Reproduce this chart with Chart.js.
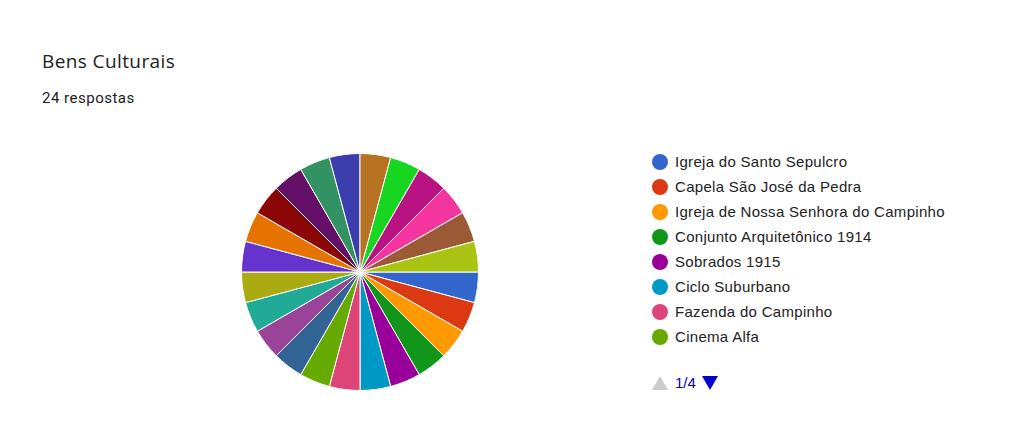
<!DOCTYPE html>
<html>
<head>
<meta charset="utf-8">
<script src="https://cdn.jsdelivr.net/npm/chart.js@4/dist/chart.umd.min.js"></script>
<style>
  html, body { margin: 0; padding: 0; background: #fff; }
  body { width: 1010px; height: 430px; position: relative; overflow: hidden; font-family: Roboto, Arial, sans-serif; }
  #titulo { position: absolute; left: 42px; top: 48px; font-size: 19px; color: #202124; font-family: "Open Sans", Roboto, sans-serif; letter-spacing: 0.4px; }
  #sub { position: absolute; left: 42px; top: 89px; font-size: 15px; color: #202124; letter-spacing: 0.5px; }
  #wrap { position: absolute; left: 241px; top: 153px; width: 238px; height: 238px; }
  #legenda { position: absolute; left: 652px; top: 149px; font-family: "Liberation Sans", Arial, sans-serif; font-size: 15px; letter-spacing: 0.3px; color: #222; }
  .item { height: 25px; display: flex; align-items: center; }
  .bola { width: 16px; height: 16px; border-radius: 50%; margin-right: 7px; }
  #pag { position: absolute; left: 652px; top: 374px; font-family: "Liberation Sans", Arial, sans-serif; font-size: 15px; color: #0000cc; display: flex; align-items: center; }
  .tri-up { width: 0; height: 0; border-left: 8px solid transparent; border-right: 8px solid transparent; border-bottom: 14px solid #ccc; margin-right: 7px; }
  .tri-down { width: 0; height: 0; border-left: 8px solid transparent; border-right: 8px solid transparent; border-top: 14px solid #0000cc; margin-left: 6px; }
</style>
</head>
<body>
<div id="titulo">Bens Culturais</div>
<div id="sub">24 respostas</div>
<div id="wrap"><canvas id="pizza"></canvas></div>
<div id="legenda"></div>
<div id="pag"><div class="tri-up"></div><span>1/4</span><div class="tri-down"></div></div>
<script>
// dados (24 fatias iguais; só a 1ª página da legenda é visível)
const bens = [
  "Igreja do Santo Sepulcro", "Capela São José da Pedra", "Igreja de Nossa Senhora do Campinho",
  "Conjunto Arquitetônico 1914", "Sobrados 1915", "Ciclo Suburbano", "Fazenda do Campinho", "Cinema Alfa",
  "", "", "", "", "", "", "", "", "", "", "", "", "", "", "", ""
];
const respostas = [1, 1, 1, 1, 1, 1, 1, 1, 1, 1, 1, 1, 1, 1, 1, 1, 1, 1, 1, 1, 1, 1, 1, 1];
const cores = [
  "#3366cc", "#dc3912", "#ff9900", "#109618", "#990099", "#0099c6", "#dd4477", "#66aa00",
  "#316395", "#994499", "#22aa99", "#aaaa11", "#6633cc", "#e67300", "#8b0707", "#651067",
  "#329262", "#3b3eac", "#b77322", "#16d620", "#b91383", "#f4359e", "#9c5935", "#a9c413"
];
const porPagina = 8;

const grafico = new Chart(document.getElementById("pizza").getContext("2d"), {
  type: "pie",
  data: {
    labels: bens,
    datasets: [{ data: respostas, backgroundColor: cores, borderColor: "#fff", borderWidth: 1 }]
  },
  options: {
    responsive: true,
    maintainAspectRatio: false,
    animation: false,
    rotation: 90,
    layout: { padding: 0 },
    plugins: { legend: { display: false }, tooltip: { enabled: false } }
  }
});

// legenda em HTML, página 1
const legenda = document.getElementById("legenda");
bens.slice(0, porPagina).forEach((b, i) => {
  legenda.innerHTML += `<div class="item"><div class="bola" style="background:${cores[i]}"></div>${b}</div>`;
});
</script>
</body>
</html>
